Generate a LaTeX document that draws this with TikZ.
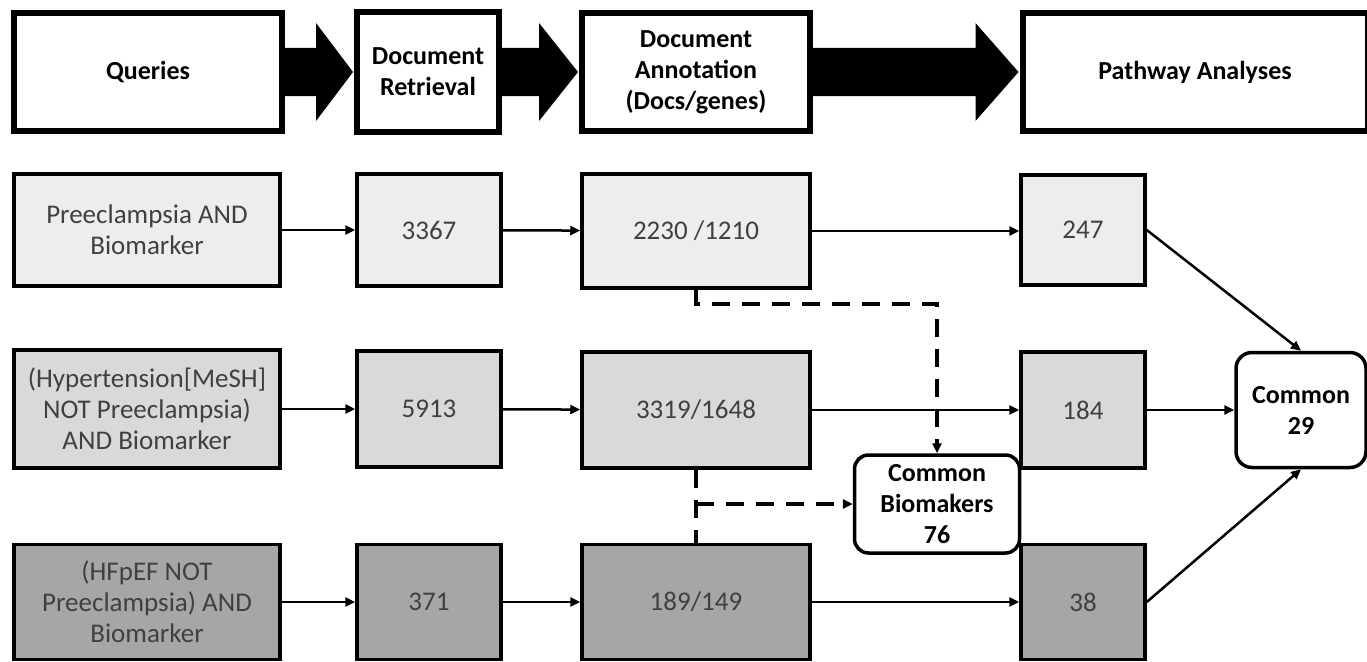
\documentclass[tikz,border=0pt]{standalone}
\usepackage{fontspec}
\setmainfont{Carlito}
\usetikzlibrary{arrows.meta,calc}

\definecolor{rowA}{HTML}{EDEDED}
\definecolor{rowB}{HTML}{D9D9D9}
\definecolor{rowC}{HTML}{A6A6A6}
\definecolor{txt}{HTML}{404040}

\tikzset{
  headbox/.style={draw, line width=6pt, fill=white, align=center, font=\fontsize{26}{31}\selectfont\bfseries, text=black},
  stagebox/.style={draw, line width=3.5pt, align=center, text=txt},
  commonbox/.style={draw, line width=3.5pt, rounded corners=16pt, fill=white, align=center, text=black,
    font=\fontsize{26}{31}\selectfont\bfseries},
  flow/.style={line width=2.5pt, -{Triangle[length=10pt,width=9pt]}},
  dashlink/.style={line width=3.5pt, dash pattern=on 18pt off 12pt},
}

\begin{document}
\begin{tikzpicture}[x=1pt, y=-1pt, font=\fontsize{27}{31}\selectfont]
  \useasboundingbox (0,0) rectangle (1367,661);

  % header row
  \node[headbox, minimum width=268, minimum height=117] (h1) at (148,72) {Queries};
  \node[headbox, minimum width=142, minimum height=120] (h2) at (428,72) {Document\\Retrieval};
  \node[headbox, minimum width=228, minimum height=118] (h3) at (696,72) {Document\\Annotation\\(Docs/genes)};
  \node[headbox, minimum width=345, minimum height=118] (h4) at (1195,72) {Pathway Analyses};

  % block arrows between the headers
  \fill ([yshift=24]h1.east) -- ([xshift=-38,yshift=24]h2.west) -- ([xshift=-38,yshift=49]h2.west)
    -- ([xshift=-1]h2.west) -- ([xshift=-38,yshift=-49]h2.west) -- ([xshift=-38,yshift=-24]h2.west)
    -- ([yshift=-24]h1.east) -- cycle;
  \fill ([yshift=24]h2.east) -- ([xshift=-40,yshift=24]h3.west) -- ([xshift=-40,yshift=49]h3.west)
    -- ([xshift=-1]h3.west) -- ([xshift=-40,yshift=-49]h3.west) -- ([xshift=-40,yshift=-24]h3.west)
    -- ([yshift=-24]h2.east) -- cycle;
  \fill ([yshift=24]h3.east) -- ([xshift=-44,yshift=24]h4.west) -- ([xshift=-44,yshift=49]h4.west)
    -- ([xshift=-1]h4.west) -- ([xshift=-44,yshift=-49]h4.west) -- ([xshift=-44,yshift=-24]h4.west)
    -- ([yshift=-24]h3.east) -- cycle;

  % query rows
  \node[stagebox, fill=rowA, minimum width=266, minimum height=112] (q1) at (147,230) {Preeclampsia AND\\Biomarker};
  \node[stagebox, fill=rowA, minimum width=144, minimum height=112] (r1) at (429,230) {3367};
  \node[stagebox, fill=rowA, minimum width=228, minimum height=114] (a1) at (696,231) {2230 /1210};
  \node[stagebox, fill=rowA, minimum width=124, minimum height=110] (p1) at (1083,230) {247};

  \node[stagebox, fill=rowB, minimum width=266, minimum height=118] (q2) at (147,409) {(Hypertension[MeSH]\\NOT Preeclampsia)\\AND Biomarker};
  \node[stagebox, fill=rowB, minimum width=144, minimum height=116] (r2) at (429,409) {5913};
  \node[stagebox, fill=rowB, minimum width=228, minimum height=116] (a2) at (696,410) {3319/1648};
  \node[stagebox, fill=rowB, minimum width=124, minimum height=116] (p2) at (1083,410) {184};

  \node[stagebox, fill=rowC, minimum width=266, minimum height=115] (q3) at (147,602) {(HFpEF NOT\\Preeclampsia) AND\\Biomarker};
  \node[stagebox, fill=rowC, minimum width=144, minimum height=115] (r3) at (429,602) {371};
  \node[stagebox, fill=rowC, minimum width=228, minimum height=115] (a3) at (696,602) {189/149};
  \node[stagebox, fill=rowC, minimum width=124, minimum height=115] (p3) at (1083,602) {38};

  % common results
  \node[commonbox, minimum width=130, minimum height=115] (c29) at (1301,410) {Common\\29};
  \node[commonbox, minimum width=165, minimum height=98, rounded corners=14pt] (cb) at (937,504) {Common\\Biomakers\\76};

  % flows
  \foreach \n in {1,2,3}{
    \draw[flow] (q\n) -- (r\n);
    \draw[flow] (r\n) -- (a\n);
  }
  \draw[flow] (a1.east) -- (a1.east -| p1.west);
  \draw[flow] (a2) -- (p2);
  \draw[flow] (a3) -- (p3);
  \draw[flow] (p2) -- (c29);
  \draw[flow] (p1.east) -- (c29.north);
  \draw[flow] (p3.east) -- (c29.south);

  % dashed links to the common biomarkers
  \draw[dashlink] (a1.south) -- ++(0,14) -| ([yshift=8]cb.north);
  \draw[flow] ([yshift=10]cb.north) -- (cb.north);
  \draw[dashlink] (a2.south) -- (a3.north);
  \draw[dashlink] (a2.south |- cb.west) -- ([xshift=-8]cb.west);
  \draw[flow] ([xshift=-10]cb.west) -- (cb.west);
\end{tikzpicture}
\end{document}
